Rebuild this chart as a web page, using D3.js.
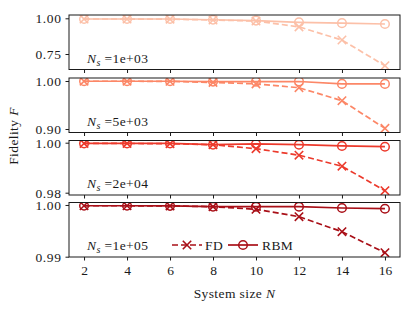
<!DOCTYPE html>
<html><head><meta charset="utf-8">
<script src="https://cdn.jsdelivr.net/npm/d3@7"></script>
<style>
body{margin:0;background:#fff;}
text{font-family:"Liberation Serif","DejaVu Serif",serif;fill:#1a1a1a;}
</style></head>
<body><svg id="c" width="416" height="310"></svg>
<script>
const N = [2,4,6,8,10,12,14,16];
const samples = ["1e+03","5e+03","2e+04","1e+05"];
const fd1  = [0.995,0.995,0.994,0.988,0.981,0.940,0.848,0.668];
const rbm1 = [0.995,0.995,0.995,0.990,0.984,0.972,0.966,0.960];
const fd2  = [0.9995,0.9995,0.9993,0.997,0.994,0.986,0.959,0.9014];
const rbm2 = [0.9995,0.9995,0.9995,0.9988,0.9988,0.9990,0.9940,0.9940];
const fd3  = [0.9997,0.9997,0.9996,0.9992,0.9976,0.9950,0.9906,0.9808];
const rbm3 = [0.9997,0.9997,0.9997,0.9992,0.9995,0.9992,0.9987,0.9984];
const fd4  = [0.99985,0.99985,0.99983,0.99967,0.99917,0.99774,0.99483,0.99077];
const rbm4 = [0.99985,0.99985,0.99983,0.99967,0.99967,0.99967,0.99942,0.99928];
const yTicks = [[0.75,1.00],[0.90,1.00],[0.98,1.00],[0.99,1.00]];
const xTicks = [2,4,6,8,10,12,14,16];
const colors = ["#fcc0a8","#fc8767","#ec3a2c","#a91018"];
const fdAll = [fd1,fd2,fd3,fd4], rbmAll = [rbm1,rbm2,rbm3,rbm4];
const yDomains = [[0.6415,1.0231],[0.8927,1.00625],[0.97908,1.00088],[0.98994,1.00048]];

const svg = d3.select("#c");
const left = 69, right = 400;
const tops = [15,78,140.5,202.5], ph = 54.5;
const x = d3.scaleLinear().domain([1.3,16.7]).range([left,right]);
const fsz = 13.5;

function xMark(g, cx, cy, s, col){
  g.append("path").attr("d",`M${cx-s},${cy-s}L${cx+s},${cy+s}M${cx-s},${cy+s}L${cx+s},${cy-s}`)
   .attr("stroke",col).attr("stroke-width",1.6).attr("fill","none");
}

for(let i=0;i<4;i++){
  const y = d3.scaleLinear().domain(yDomains[i]).range([tops[i]+ph, tops[i]]);
  const g = svg.append("g");
  const col = colors[i];
  const cid = "clip"+i;
  svg.append("clipPath").attr("id",cid).append("rect").attr("x",left).attr("y",tops[i]).attr("width",right-left).attr("height",ph);
  const pg = g.append("g").attr("clip-path",`url(#${cid})`);
  const line = d3.line().x((d,j)=>x(N[j])).y(d=>y(d));
  pg.append("path").datum(fdAll[i]).attr("d",line).attr("fill","none").attr("stroke",col)
    .attr("stroke-width",1.7).attr("stroke-dasharray","6,3");
  fdAll[i].forEach((v,j)=>xMark(pg, x(N[j]), y(v), 4.2, col));
  pg.append("path").datum(rbmAll[i]).attr("d",line).attr("fill","none").attr("stroke",col)
    .attr("stroke-width",1.7);
  rbmAll[i].forEach((v,j)=>pg.append("circle").attr("cx",x(N[j])).attr("cy",y(v)).attr("r",4.3)
    .attr("fill","none").attr("stroke",col).attr("stroke-width",1.5));

  const ya = g.append("g").attr("transform",`translate(${left},0)`)
    .call(d3.axisLeft(y).tickValues(yTicks[i]).tickFormat(d3.format(".2f")).tickSize(3.5).tickPadding(4));
  ya.select(".domain").remove();
  ya.selectAll("line").attr("stroke","#1a1a1a").attr("stroke-width",1);
  ya.selectAll("text").attr("font-size",fsz).attr("letter-spacing",0.6).style("font-family","Liberation Serif").attr("fill","#1a1a1a");
  const xa = g.append("g").attr("transform",`translate(0,${tops[i]+ph})`)
    .call(d3.axisBottom(x).tickValues(xTicks).tickFormat(i===3? d3.format("d") : "").tickSize(3.5).tickPadding(5));
  xa.select(".domain").remove();
  xa.selectAll("line").attr("stroke","#1a1a1a").attr("stroke-width",1);
  xa.selectAll("text").attr("font-size",fsz).style("font-family","Liberation Serif").attr("fill","#1a1a1a");
  g.append("rect").attr("x",left).attr("y",tops[i]).attr("width",right-left).attr("height",ph)
    .attr("fill","none").attr("stroke","#1a1a1a").attr("stroke-width",1);

  const t = g.append("text").attr("x",87).attr("y",tops[i]+ph-7).attr("font-size",fsz).attr("letter-spacing",0.4);
  t.append("tspan").attr("font-style","italic").text("N");
  t.append("tspan").attr("font-style","italic").attr("font-size",10).attr("dy",3).text("s");
  t.append("tspan").attr("dy",-3).text(" =" + samples[i]);

  if(i===3){
    const ly = 245;
    const lg = g.append("g");
    lg.append("line").attr("x1",172).attr("x2",202).attr("y1",ly).attr("y2",ly)
      .attr("stroke",col).attr("stroke-width",1.7).attr("stroke-dasharray","6,3");
    xMark(lg,187,ly,4.2,col);
    lg.append("text").attr("x",205).attr("y",ly+5).attr("font-size",fsz).attr("letter-spacing",0.4).text("FD");
    lg.append("line").attr("x1",228).attr("x2",258).attr("y1",ly).attr("y2",ly)
      .attr("stroke",col).attr("stroke-width",1.7);
    lg.append("circle").attr("cx",243).attr("cy",ly).attr("r",4.3).attr("fill","none")
      .attr("stroke",col).attr("stroke-width",1.5);
    lg.append("text").attr("x",262).attr("y",ly+5).attr("font-size",fsz).attr("letter-spacing",0.4).text("RBM");
  }
}
const xl = svg.append("text").attr("x",(left+right)/2).attr("y",298).attr("text-anchor","middle").attr("font-size",fsz).attr("letter-spacing",0.4);
xl.append("tspan").text("System size ");
xl.append("tspan").attr("font-style","italic").text("N");
const yl = svg.append("text").attr("transform","translate(18,136) rotate(-90)").attr("text-anchor","middle").attr("font-size",fsz).attr("letter-spacing",0.4);
yl.append("tspan").text("Fidelity ");
yl.append("tspan").attr("font-style","italic").text("F");
</script></body></html>
